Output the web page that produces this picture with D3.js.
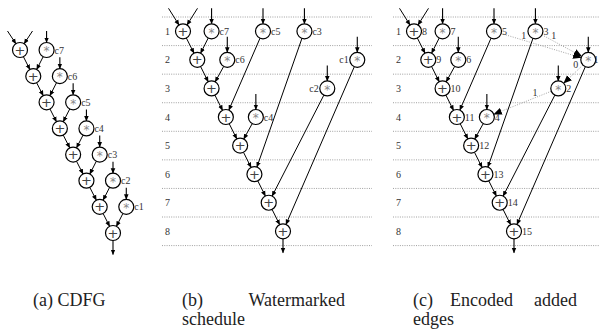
<!DOCTYPE html>
<html>
<head>
<meta charset="utf-8">
<script src="https://cdn.jsdelivr.net/npm/d3@7"></script>
<style>
body { margin: 0; background: #fff; }
</style>
</head>
<body>
<svg width="599" height="333" font-family="'Liberation Serif', 'DejaVu Serif', serif"></svg>
<script>
// control steps of the schedule
const steps = [1, 2, 3, 4, 5, 6, 7, 8];
// adder chain, with the numbers used in (c)
const addIds = ["8", "9", "10", "11", "12", "13", "14", "15"];
// multipliers: multiplier i feeds adder i+1
const mulNames = ["c7", "c6", "c5", "c4", "c3", "c2", "c1"];
const mulIds = ["7", "6", "5", "4", "3", "2", "1"];
// watermarked schedule: control step and lane of each multiplier
const mulStep = [1, 2, 1, 4, 1, 3, 2];
const mulLane = [2, 3.1, 5.6, 5.1, 8.5, 10.1, 12.2];
// encoded added edges
const addedFrom = ["5", "3", "1", "2"];
const addedTo = ["1", "1", "2", "4"];
const addedBit = ["1", "1", "0", "1"];
// captions
const capA = ["(a) CDFG"];
const capB = ["(b)", "Watermarked", "schedule"];
const capC = ["(c)", "Encoded", "added", "edges"];

const svg = d3.select("svg");
const R = 7.5;
const serif = "'Liberation Serif', 'Times New Roman', serif";

const defs = svg.append("defs");
defs.append("marker").attr("id", "arr")
	.attr("viewBox", "0 -3 6 6").attr("refX", 5).attr("refY", 0)
	.attr("markerUnits", "userSpaceOnUse").attr("markerWidth", 6).attr("markerHeight", 6)
	.attr("orient", "auto")
	.append("path").attr("d", "M0,-2.3L5.5,0L0,2.3Z").attr("fill", "#000");
defs.append("marker").attr("id", "big")
	.attr("viewBox", "0 -4 9 8").attr("refX", 8).attr("refY", 0)
	.attr("markerUnits", "userSpaceOnUse").attr("markerWidth", 9).attr("markerHeight", 8)
	.attr("orient", "auto")
	.append("path").attr("d", "M0,-3.6L8.5,0L0,3.6Z").attr("fill", "#000");

function seg(a, b) {
	var dx = b.x - a.x, dy = b.y - a.y, len = Math.sqrt(dx * dx + dy * dy);
	return [a.x + dx / len * R, a.y + dy / len * R, b.x - dx / len * R, b.y - dy / len * R];
}

function drawGraph(g, adds, muls, inLen, outLen, spread) {
	// edges along the adder chain
	for (var i = 0; i < adds.length - 1; i++) {
		var s = seg(adds[i], adds[i + 1]);
		g.append("line").attr("x1", s[0]).attr("y1", s[1]).attr("x2", s[2]).attr("y2", s[3])
			.attr("stroke", "#000").attr("stroke-width", 1).attr("marker-end", "url(#arr)");
	}
	// multiplier -> adder
	muls.forEach(function(m, i) {
		var s = seg(m, adds[i + 1]);
		g.append("line").attr("x1", s[0]).attr("y1", s[1]).attr("x2", s[2]).attr("y2", s[3])
			.attr("stroke", "#000").attr("stroke-width", 1).attr("marker-end", "url(#arr)");
		g.append("line").attr("x1", m.x).attr("y1", m.y - inLen).attr("x2", m.x).attr("y2", m.y - R)
			.attr("stroke", "#000").attr("stroke-width", 1.1).attr("marker-end", "url(#arr)");
	});
	// primary inputs and output
	var a0 = adds[0];
	[-1, 1].forEach(function(sgn) {
		var src = {x: a0.x + sgn * spread, y: a0.y - inLen};
		var s = seg(src, a0);
		g.append("line").attr("x1", src.x).attr("y1", src.y).attr("x2", s[2]).attr("y2", s[3])
			.attr("stroke", "#000").attr("stroke-width", 1).attr("marker-end", "url(#arr)");
	});
	var last = adds[adds.length - 1];
	g.append("line").attr("x1", last.x).attr("y1", last.y + R).attr("x2", last.x).attr("y2", last.y + R + outLen)
		.attr("stroke", "#000").attr("stroke-width", 1.1).attr("marker-end", "url(#arr)");

	// nodes
	adds.concat(muls).forEach(function(n) {
		g.append("circle").attr("cx", n.x).attr("cy", n.y).attr("r", R)
			.attr("fill", "#fff").attr("stroke", "#000").attr("stroke-width", 1.2);
		if (n.kind == "add") {
			g.append("text").attr("x", n.x).attr("y", n.y + 4.6).attr("text-anchor", "middle")
				.attr("font-family", "DejaVu Sans").style("font-size", "13px")
				.attr("fill", "#444").text("+");
		} else {
			g.append("text").attr("x", n.x).attr("y", n.y + 5.3).attr("text-anchor", "middle")
				.attr("font-family", "DejaVu Sans").style("font-size", "12px")
				.attr("fill", "#888").text("*");
		}
		if (n.label) {
			var lx = n.left ? n.x - R - 1 : Math.min(n.x + R + 0.5, 593.5);
			g.append("text")
				.attr("x", lx)
				.attr("y", n.y + 3.5)
				.attr("text-anchor", n.left ? "end" : "start")
				.attr("font-family", serif)
				.style("font-size", "10px").attr("fill", "#333").text(n.label);
		}
	});
}

/* (a) CDFG */
const xA = d3.scaleLinear().domain([0, 7]).range([20, 113]);
const yA = d3.scaleLinear().domain([0, 7]).range([50, 233]);
var addsA = addIds.map(function(d, i) { return {x: xA(i), y: yA(i), kind: "add"}; });
var mulsA = mulNames.map(function(d, i) { return {x: xA(i + 2), y: yA(i), kind: "mul", label: d}; });
drawGraph(svg.append("g"), addsA, mulsA, 19, 14, 12.5);

/* (b) and (c) schedules */
const yS = d3.scaleLinear().domain([1, 8]).range([31.3, 231.3]);

function schedule(x0, gridX, gridRight, encoded) {
	const xS = d3.scaleLinear().domain([0, 7]).range([x0, x0 + 100]);
	var g = svg.append("g");
	var gridSteps = steps.concat([steps.length + 1]);
	g.selectAll(".grid").data(gridSteps).enter().append("line")
		.attr("x1", gridX).attr("x2", gridRight)
		.attr("y1", function(d) { return yS(d - 0.5); }).attr("y2", function(d) { return yS(d - 0.5); })
		.attr("stroke", "#888").attr("stroke-width", 0.8).attr("stroke-dasharray", "1,1.3");
	g.selectAll(".step").data(steps).enter().append("text")
		.attr("x", gridX + 3).attr("y", function(d) { return yS(d) + 3.5; })
		.attr("font-family", serif)
		.style("font-size", "10px").attr("fill", "#333").text(function(d) { return d; });

	var adds = addIds.map(function(d, i) { return {x: xS(i), y: yS(steps[i]), kind: "add", label: encoded ? d : null}; });
	var muls = mulNames.map(function(d, i) {
		return {x: xS(mulLane[i]), y: yS(mulStep[i]), kind: "mul",
			label: encoded ? mulIds[i] : d, left: !encoded && mulStep[i] >= 2 && mulLane[i] > 9, id: mulIds[i]};
	});

	if (encoded) {
		addedFrom.forEach(function(f, k) {
			var a = muls.find(function(m) { return m.id == f; });
			var b = muls.find(function(m) { return m.id == addedTo[k]; });
			var s = seg(a, b);
			g.append("line").attr("x1", s[0]).attr("y1", s[1]).attr("x2", s[2]).attr("y2", s[3])
				.attr("stroke", "#999").attr("stroke-width", 0.9).attr("stroke-dasharray", "1,1.4")
				.attr("marker-end", "url(#big)");
			var dx = b.x - a.x, dy = b.y - a.y, len = Math.sqrt(dx * dx + dy * dy);
			var nx = dy / len, ny = -dx / len;
			if (ny > 0) { nx = -nx; ny = -ny; }
			var t = 0.3;
			g.append("text").attr("x", a.x + dx * t + nx * 5).attr("y", a.y + dy * t + ny * 5 + 3.5)
				.attr("text-anchor", "middle").attr("font-family", serif)
				.style("font-size", "10px").attr("fill", "#333")
				.text(addedBit[k]);
		});
	}
	drawGraph(g, adds, muls, 23, 14, 14.5);
}
schedule(183, 162, 372, false);
schedule(414, 393, 603, true);

/* captions */
function caption(words, xs, ys, anchors) {
	svg.selectAll(null).data(words).enter().append("text")
		.attr("x", function(d, i) { return xs[i]; })
		.attr("y", function(d, i) { return ys[i]; })
		.attr("text-anchor", function(d, i) { return anchors[i]; })
		.attr("font-family", serif)
		.style("font-size", "18px").attr("fill", "#222")
		.text(function(d) { return d; });
}
caption(capA, [33], [306], ["start"]);
caption(capB, [182, 345, 182], [306, 306, 325], ["start", "end", "start"]);
caption(capC, [413, 450, 577, 413], [306, 306, 306, 325], ["start", "start", "end", "start"]);
</script>
</body>
</html>
